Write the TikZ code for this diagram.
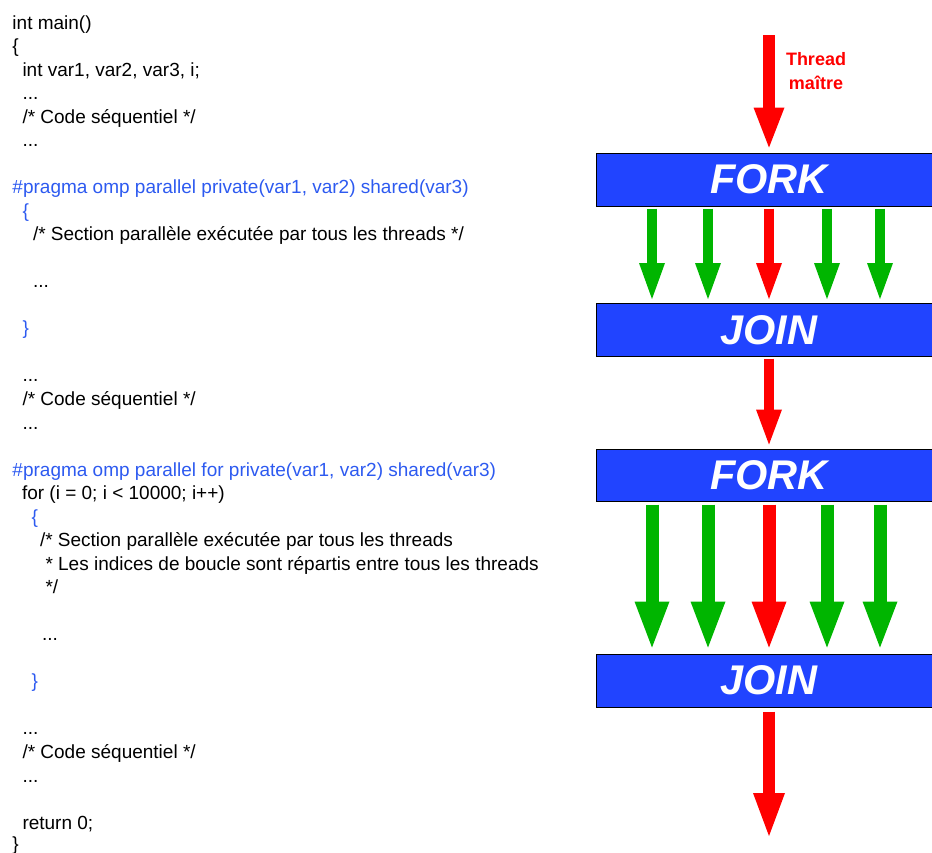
\documentclass[tikz,border=0pt]{standalone}
\usepackage{fontspec}
\setmainfont{Liberation Sans}
\usetikzlibrary{arrows.meta}
\begin{document}

\definecolor{boxblue}{RGB}{33,68,255}
\definecolor{pragmablue}{RGB}{45,90,240}
\definecolor{thrgreen}{RGB}{0,181,0}
\definecolor{thrred}{RGB}{255,0,0}

\tikzset{
  codeline/.style={anchor=base west, inner sep=0pt, outer sep=0pt,
    font=\fontsize{19}{22}\selectfont, text=black},
  pragma/.style={codeline, text=pragmablue},
  stage/.style={draw=black, line width=1pt, fill=boxblue,
    minimum width=346pt, minimum height=53pt, inner sep=0pt,
    text=white, font=\fontsize{41.5}{41.5}\selectfont\bfseries\itshape},
  flow/.style n args={3}{line width=#1,
    -{Triangle[width=#2,length=#3,line width=0pt]}},
  master/.style={draw=thrred, flow={#1}},
  worker/.style={draw=thrgreen, flow={#1}},
  masterlabel/.style={text=thrred, align=center, inner sep=0pt,
    font=\fontsize{18}{23.4}\selectfont\bfseries},
}

\begin{tikzpicture}[x=1pt, y=-1pt]
  \useasboundingbox (0,0) rectangle (932,852);
  \clip (0,0) rectangle (932,852);

  % ---- source code listing ----
  \node[codeline] (l1)  at (12.5, 29.0)  {int main()};
  \node[codeline] (l2)  at (12.5, 52.5)  {\{};
  \node[codeline] (l3)  at (22.5, 76.1)  {int var1, var2, var3, i;};
  \node[codeline] (l4)  at (22.5, 99.6)  {...};
  \node[codeline] (l5)  at (22.5, 123.1) {/* Code séquentiel */};
  \node[codeline] (l6)  at (22.5, 146.7) {...};
  \node[pragma]   (l8)  at (12.5, 193.7) {\#pragma omp parallel private(var1, var2) shared(var3)};
  \node[pragma]   (l9)  at (22.5, 217.2) {\{};
  \node[codeline] (l10) at (33.0, 240.8) {/* Section parallèle exécutée par tous les threads */};
  \node[codeline] (l12) at (33.0, 287.8) {...};
  \node[pragma]   (l14) at (22.5, 334.9) {\}};
  \node[codeline] (l16) at (22.5, 381.9) {...};
  \node[codeline] (l17) at (22.5, 405.5) {/* Code séquentiel */};
  \node[codeline] (l18) at (22.5, 429.0) {...};
  \node[pragma]   (l20) at (12.5, 476.1) {\#pragma omp parallel for private(var1, var2) shared(var3)};
  \node[codeline] (l21) at (22.0, 499.6) {for (i = 0; i < 10000; i++)};
  \node[pragma]   (l22) at (31.5, 523.1) {\{};
  \node[codeline] (l23) at (40.0, 546.7) {/* Section parallèle exécutée par tous les threads};
  \node[codeline] (l24) at (45.5, 570.2) {* Les indices de boucle sont répartis entre tous les threads};
  \node[codeline] (l25) at (45.5, 593.8) {*/};
  \node[codeline] (l27) at (42.0, 640.8) {...};
  \node[pragma]   (l29) at (31.5, 687.9) {\}};
  \node[codeline] (l31) at (22.5, 734.9) {...};
  \node[codeline] (l32) at (22.5, 758.5) {/* Code séquentiel */};
  \node[codeline] (l33) at (22.5, 782.0) {...};
  \node[codeline] (l35) at (22.5, 829.0) {return 0;};
  \node[codeline] (l36) at (12.5, 850.5) {\}};

  % ---- fork / join stages ----
  \node[stage] (fork1) at (769, 179.5) {FORK};
  \node[stage] (join1) at (769, 330.0) {JOIN};
  \node[stage, minimum height=52pt] (fork2) at (769, 475.0) {FORK};
  \node[stage] (join2) at (769, 680.5) {JOIN};

  \coordinate (start) at (769, 35);
  \coordinate (finish) at (769, 836);

  % the base anchor of a two-line label sits on its last line
  \node[masterlabel, anchor=base] (lbl) at (816, 89) {Thread\\maître};

  % master thread entering
  \draw[master={12pt}{31pt}{40pt}, shorten >=5pt] (start) -- (fork1.north);

  % first parallel region
  \foreach \dx/\kind in {-117/worker, -61/worker, 0/master, 58/worker, 111/worker}{
    \draw[\kind={10pt}{26pt}{36pt}, shorten <=2pt, shorten >=4pt]
      ([xshift=\dx pt]fork1.south) -- ([xshift=\dx pt]join1.north);
  }

  % sequential section
  \draw[master={10pt}{26pt}{35pt}, shorten <=1.5pt, shorten >=4pt]
    (join1.south) -- (fork2.north);

  % second parallel region
  \foreach \dx/\kind in {-117/worker, -61/worker, 0/master, 58/worker, 111/worker}{
    \draw[\kind={13pt}{35pt}{46pt}, shorten <=3pt, shorten >=6pt]
      ([xshift=\dx pt]fork2.south) -- ([xshift=\dx pt]join2.north);
  }

  % master thread leaving
  \draw[master={12pt}{32pt}{43pt}, shorten <=4pt] (join2.south) -- (finish);
\end{tikzpicture}
\end{document}
